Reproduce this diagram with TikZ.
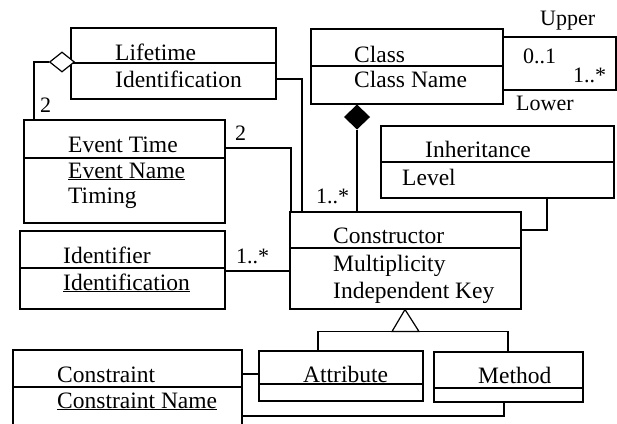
\documentclass[tikz,border=0pt]{standalone}
\usepackage{fontspec}
\setmainfont{Liberation Serif}
\usetikzlibrary{shapes.geometric}

\begin{document}
\begin{tikzpicture}[x=1pt, y=-1pt]
	\tikzstyle{comp} = [
		rectangle, draw=black, line width=1.5pt, inner sep=0pt, anchor=north west
	]
	\tikzstyle{caption} = [
		anchor=base west, inner sep=0pt, font=\fontsize{23.5}{28}\selectfont
	]
	\tikzstyle{mult} = [
		anchor=base west, inner sep=0pt, font=\fontsize{22}{26}\selectfont
	]
	\tikzstyle{divider} = [
		line width=1.5pt
	]
	\tikzstyle{conn} = [
		line width=1.2pt
	]

	\useasboundingbox (0,0) rectangle (617,423);

	% Lifetime
	\node (Lifetime) [comp, minimum width=205pt, minimum height=71pt] at (70,27) {}
		node [caption] at (115,60) {Lifetime}
		node [caption] at (115,87) {Identification}
		coordinate [yshift=-36pt] (Lifetime_div) at (Lifetime.north west)
		coordinate [yshift=-35pt] (Lifetime_agg) at (Lifetime.north west) % links
		coordinate [yshift=-52pt] (Lifetime_out) at (Lifetime.north east) % rechts
	;
	\draw[divider] (Lifetime_div) -- (Lifetime_div -| Lifetime.east);

	% Event Time
	\node (Event) [comp, minimum width=201pt, minimum height=103pt] at (23,119) {}
		node [caption] at (68,152) {Event Time}
		node [caption] at (68,178) {\underline{Event Name}}
		node [caption] at (68,203) {Timing}
		coordinate [yshift=-39pt] (Event_div) at (Event.north west)
		coordinate [xshift=11pt] (Event_top) at (Event.north west) % oben
		coordinate [yshift=-29pt] (Event_out) at (Event.north east) % rechts
	;
	\draw[divider] (Event_div) -- (Event_div -| Event.east);

	% Class
	\node (Class) [comp, minimum width=192pt, minimum height=75pt] at (310,28) {}
		node [caption] at (354,62) {Class}
		node [caption] at (354,87) {Class Name}
		coordinate [yshift=-38pt] (Class_div) at (Class.north west)
		coordinate [yshift=-9pt] (Class_up) at (Class.north east) % oben
		coordinate [yshift=-62pt] (Class_low) at (Class.north east) % unten
		coordinate [xshift=47pt] (Class_bottom) at (Class.south west)
	;
	\draw[divider] (Class_div) -- (Class_div -| Class.east);

	% Inheritance
	\node (Inheritance) [comp, minimum width=233pt, minimum height=72pt] at (380,125) {}
		node [caption] at (425,157) {Inheritance}
		node [caption] at (402,185) {Level}
		coordinate [yshift=-37pt] (Inheritance_div) at (Inheritance.north west)
		coordinate [xshift=167pt] (Inheritance_out) at (Inheritance.south west)
	;
	\draw[divider] (Inheritance_div) -- (Inheritance_div -| Inheritance.east);

	% Constructor
	\node (Constructor) [comp, minimum width=231pt, minimum height=97pt] at (289,211) {}
		node [caption] at (333,243) {Constructor}
		node [caption] at (333,271) {Multiplicity}
		node [caption] at (333,298) {Independent Key}
		coordinate [yshift=-37pt] (Constructor_div) at (Constructor.north west)
		% Inputs oben
		coordinate [xshift=2pt] (Constructor_in0) at (Constructor.north west)
		coordinate [xshift=13pt] (Constructor_in1) at (Constructor.north west)
		coordinate [xshift=68pt] (Constructor_in2) at (Constructor.north west)
		% Inputs seitlich
		coordinate [yshift=-19pt] (Constructor_in3) at (Constructor.north east)
		coordinate [yshift=-60pt] (Constructor_in4) at (Constructor.north west)
		% unten
		coordinate [xshift=116pt] (Constructor_gen) at (Constructor.south west)
	;
	\draw[divider] (Constructor_div) -- (Constructor_div -| Constructor.east);

	% Identifier
	\node (Identifier) [comp, minimum width=205pt, minimum height=78pt] at (19,230) {}
		node [caption] at (63,263) {Identifier}
		node [caption] at (63,290) {\underline{Identification}}
		coordinate [yshift=-38pt] (Identifier_div) at (Identifier.north west)
		coordinate [yshift=-41pt] (Identifier_out) at (Identifier.north east)
	;
	\draw[divider] (Identifier_div) -- (Identifier_div -| Identifier.east);

	% Attribute
	\node (Attribute) [comp, minimum width=164pt, minimum height=50pt] at (258,350) {}
		node [caption] at (303,382) {Attribute}
		coordinate [yshift=-34pt] (Attribute_div) at (Attribute.north west)
		coordinate [xshift=60pt] (Attribute_top) at (Attribute.north west)
		coordinate [yshift=-24pt] (Attribute_in) at (Attribute.north west)
	;
	\draw[divider] (Attribute_div) -- (Attribute_div -| Attribute.east);

	% Method
	\node (Method) [comp, minimum width=149pt, minimum height=50pt] at (433,351) {}
		node [caption] at (478,383) {Method}
		coordinate [yshift=-37pt] (Method_div) at (Method.north west)
		coordinate [xshift=75pt] (Method_top) at (Method.north west)
		coordinate [xshift=71pt] (Method_bottom) at (Method.south west)
	;
	\draw[divider] (Method_div) -- (Method_div -| Method.east);

	% Constraint
	\node (Constraint) [comp, minimum width=229pt, minimum height=80pt] at (12,349) {}
		node [caption] at (57,382) {Constraint}
		node [caption] at (57,408) {\underline{Constraint Name}}
		coordinate [yshift=-38pt] (Constraint_div) at (Constraint.north west)
		coordinate [yshift=-25pt] (Constraint_out0) at (Constraint.north east) % oben
		coordinate [yshift=-67pt] (Constraint_out1) at (Constraint.north east) % unten
	;
	\draw[divider] (Constraint_div) -- (Constraint_div -| Constraint.east);

	% Lifetime -> Event Time
	\node (LifeDia) [diamond, draw, fill=white, line width=1.2pt, inner sep=0pt, minimum width=25pt, minimum height=20pt, xshift=-8pt] at (Lifetime_agg) {};
	\draw[conn] (LifeDia.west) -| (Event_top);
	\node [mult] at (40,112) {2};

	% Lifetime, Event Time -> Constructor
	\draw[conn] (Lifetime_out) -| (Constructor_in1);
	\draw[conn] (Event_out) -| (Constructor_in0);
	\node [mult] at (235,140) {2};

	% Class -> Class
	\coordinate (Loop) at (616,60);
	\draw[conn] (Class_up) -| (Loop) |- (Class_low);
	\node [mult] at (540,25) {Upper};
	\node [mult] at (523,63) {0..1};
	\node [mult] at (573,82) {1..*};
	\node [mult] at (516,110) {Lower};

	% Class -> Constructor
	\node (ClassDia) [diamond, draw, fill=black, line width=1pt, inner sep=0pt, minimum width=25pt, minimum height=24pt, anchor=north] at (Class_bottom) {};
	\draw[conn] (ClassDia.south) -- (Constructor_in2);
	\node [mult] at (316,203) {1..*};

	% Inheritance -> Constructor
	\draw[conn] (Inheritance_out) |- (Constructor_in3);

	% Identifier -> Constructor
	\draw[conn] (Identifier_out) -- (Constructor_in4);
	\node [mult] at (236,263) {1..*};

	% Generalisierung
	\coordinate [yshift=-22pt] (Gen_base) at (Constructor_gen);
	\draw[conn] (Attribute_top) |- (Gen_base) -| (Method_top);
	\draw[conn, fill=white] (Constructor_gen) -- ([xshift=-13pt]Gen_base) -- ([xshift=14pt]Gen_base) -- cycle;

	% Constraint -> Attribute, Method
	\draw[conn] (Constraint_out0) -- (Attribute_in);
	\draw[conn] (Constraint_out1) -| (Method_bottom);
\end{tikzpicture}
\end{document}
